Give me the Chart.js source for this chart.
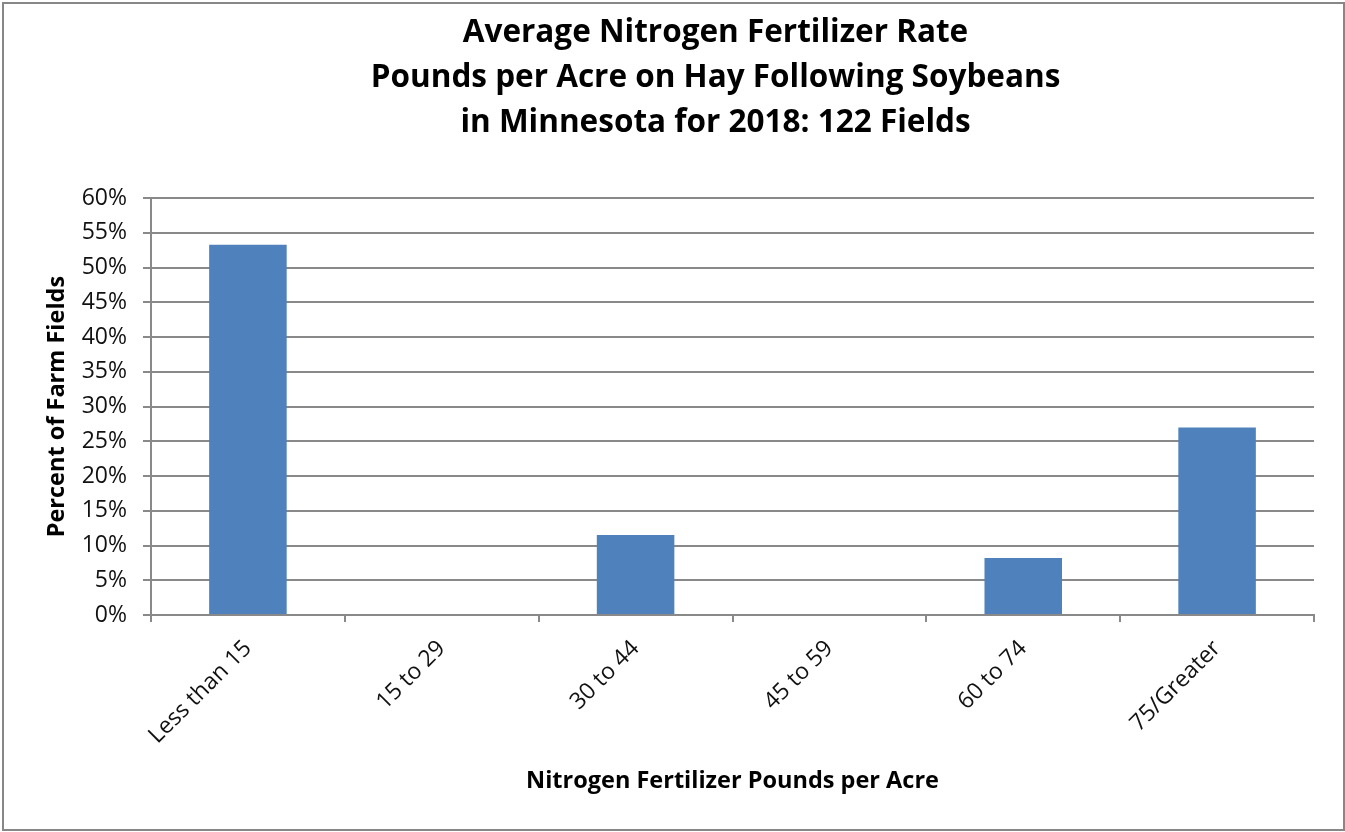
<!DOCTYPE html>
<html>
<head>
<meta charset="utf-8">
<script src="https://cdn.jsdelivr.net/npm/chart.js@4/dist/chart.umd.min.js"></script>
<style>
  html, body { margin: 0; padding: 0; background: #fff; }
  #wrap { position: relative; width: 1345px; height: 832px; }
  #frame {
    position: absolute; left: 2px; top: 2px; width: 1343px; height: 829px;
    box-sizing: border-box; border: 2px solid #878787; pointer-events: none;
  }
  canvas { position: absolute; left: 0; top: 0; }
</style>
</head>
<body>
<div id="wrap">
  <canvas id="chart" width="1345" height="832"></canvas>
  <div id="frame"></div>
</div>
<script>
// Share of surveyed fields by nitrogen rate bracket (122 fields)
const categories = ['Less than 15', '15 to 29', '30 to 44', '45 to 59', '60 to 74', '75/Greater'];
const percentFields = [53.3, 0, 11.5, 0, 8.2, 27.0];
const yTicks = [0, 5, 10, 15, 20, 25, 30, 35, 40, 45, 50, 55, 60];
const titleLines = [
  'Average Nitrogen Fertilizer Rate',
  'Pounds per Acre on Hay Following Soybeans',
  'in Minnesota for 2018: 122 Fields'
];
const xTitle = 'Nitrogen Fertilizer Pounds per Acre';
const yTitle = 'Percent of Farm Fields';

const FONT = "'Open Sans', 'DejaVu Sans', sans-serif";
const GRID = '#898989';

// Centre the title block over the band between the y-axis title and the right edge
const titleShift = {
  id: 'titleShift',
  afterLayout(chart) {
    const t = chart.titleBlock;
    if (t) { t.left = 86; t.right = 1345; }
  }
};

new Chart(document.getElementById('chart'), {
  type: 'bar',
  data: {
    labels: categories,
    datasets: [{
      data: percentFields,
      backgroundColor: '#4F81BD',
      borderWidth: 0,
      barPercentage: 0.4,
      categoryPercentage: 1.0
    }]
  },
  plugins: [titleShift],
  options: {
    responsive: false,
    animation: false,
    events: [],
    layout: { padding: { left: 0, right: 31, top: 0, bottom: 0 } },
    plugins: {
      legend: { display: false },
      tooltip: { enabled: false },
      title: {
        display: true,
        text: titleLines,
        color: '#000',
        font: { family: FONT, size: 31.5, weight: 'bold', lineHeight: 1.42 },
        padding: { top: 11, bottom: 53 }
      }
    },
    scales: {
      x: {
        grid: {
          display: true,
          drawOnChartArea: false,
          drawTicks: true,
          tickLength: 7,
          color: GRID,
          lineWidth: 2,
          offset: true
        },
        border: { display: true, color: GRID, width: 2 },
        ticks: {
          autoSkip: false,
          minRotation: 45,
          maxRotation: 45,
          padding: 13,
          color: '#111',
          font: { family: FONT, size: 23 }
        },
        title: {
          display: true,
          text: xTitle,
          color: '#000',
          font: { family: FONT, size: 23.5, weight: 'bold' },
          padding: { top: 0, bottom: 37 }
        },
        afterFit: (scale) => { scale.height = 217; }
      },
      y: {
        min: 0,
        max: 60,
        afterBuildTicks: (scale) => { scale.ticks = yTicks.map(v => ({ value: v })); },
        grid: {
          color: GRID,
          lineWidth: 2,
          tickLength: 8,
          drawTicks: true
        },
        border: { display: true, color: GRID, width: 2 },
        ticks: {
          padding: 16,
          color: '#111',
          font: { family: FONT, size: 23 },
          callback: (v) => v + '%'
        },
        title: {
          display: true,
          text: yTitle,
          color: '#000',
          font: { family: FONT, size: 23.5, weight: 'bold' },
          padding: { top: 43, bottom: 0 }
        },
        afterFit: (scale) => { scale.width = 151; }
      }
    }
  }
});
</script>
</body>
</html>
